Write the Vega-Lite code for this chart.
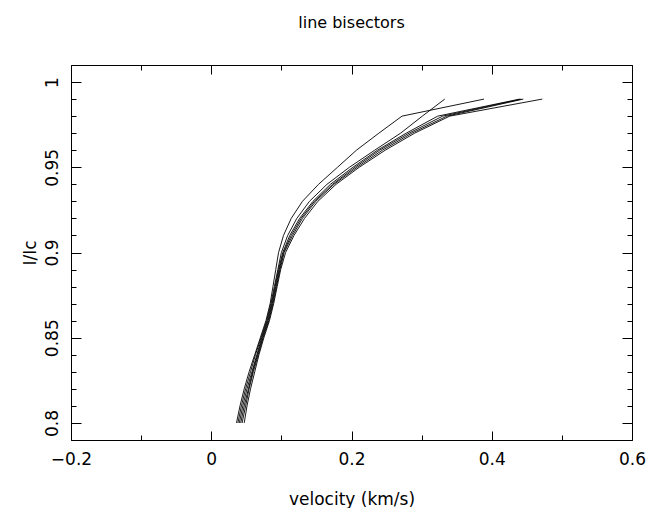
{
  "$schema": "https://vega.github.io/schema/vega-lite/v6.json",
  "width": 561,
  "height": 375,
  "autosize": {"type": "none"},
  "padding": {"left": 71, "top": 65, "right": 17, "bottom": 68},
  "background": "white",
  "config": {
    "view": {"stroke": "black", "strokeWidth": 1},
    "font": "DejaVu Sans",
    "axis": {"domain": false, "grid": false, "tickColor": "black", "tickWidth": 1, "labelColor": "black", "titleColor": "black", "titleFontWeight": "normal", "labelFontSize": 17, "titleFontSize": 17, "labelOverlap": false, "labelBound": false, "labelFlush": false}
  },
  "title": {"text": "line bisectors", "fontSize": 16, "fontWeight": "normal", "color": "black", "anchor": "middle", "frame": "group", "offset": 34},
  "data": {"values": [
    {"s":"a","I":0.80,"v":0.036},{"s":"a","I":0.81,"v":0.041},{"s":"a","I":0.82,"v":0.047},{"s":"a","I":0.83,"v":0.054},{"s":"a","I":0.84,"v":0.062},{"s":"a","I":0.85,"v":0.070},{"s":"a","I":0.86,"v":0.078},{"s":"a","I":0.87,"v":0.084},{"s":"a","I":0.88,"v":0.088},{"s":"a","I":0.89,"v":0.092},{"s":"a","I":0.90,"v":0.096},{"s":"a","I":0.91,"v":0.103},{"s":"a","I":0.92,"v":0.114},{"s":"a","I":0.93,"v":0.130},{"s":"a","I":0.94,"v":0.153},{"s":"a","I":0.95,"v":0.180},{"s":"a","I":0.96,"v":0.207},{"s":"a","I":0.97,"v":0.239},{"s":"a","I":0.98,"v":0.272},{"s":"a","I":0.99,"v":0.389},
    {"s":"b","I":0.80,"v":0.038},{"s":"b","I":0.81,"v":0.043},{"s":"b","I":0.82,"v":0.049},{"s":"b","I":0.83,"v":0.056},{"s":"b","I":0.84,"v":0.063},{"s":"b","I":0.85,"v":0.071},{"s":"b","I":0.86,"v":0.079},{"s":"b","I":0.87,"v":0.085},{"s":"b","I":0.88,"v":0.090},{"s":"b","I":0.89,"v":0.095},{"s":"b","I":0.90,"v":0.100},{"s":"b","I":0.91,"v":0.109},{"s":"b","I":0.92,"v":0.122},{"s":"b","I":0.93,"v":0.140},{"s":"b","I":0.94,"v":0.165},{"s":"b","I":0.95,"v":0.197},{"s":"b","I":0.96,"v":0.233},{"s":"b","I":0.97,"v":0.270},{"s":"b","I":0.98,"v":0.301},{"s":"b","I":0.99,"v":0.333},
    {"s":"c","I":0.80,"v":0.040},{"s":"c","I":0.81,"v":0.045},{"s":"c","I":0.82,"v":0.051},{"s":"c","I":0.83,"v":0.058},{"s":"c","I":0.84,"v":0.065},{"s":"c","I":0.85,"v":0.072},{"s":"c","I":0.86,"v":0.080},{"s":"c","I":0.87,"v":0.086},{"s":"c","I":0.88,"v":0.091},{"s":"c","I":0.89,"v":0.096},{"s":"c","I":0.90,"v":0.102},{"s":"c","I":0.91,"v":0.112},{"s":"c","I":0.92,"v":0.126},{"s":"c","I":0.93,"v":0.145},{"s":"c","I":0.94,"v":0.170},{"s":"c","I":0.95,"v":0.202},{"s":"c","I":0.96,"v":0.237},{"s":"c","I":0.97,"v":0.278},{"s":"c","I":0.98,"v":0.323},{"s":"c","I":0.99,"v":0.440},
    {"s":"d","I":0.80,"v":0.042},{"s":"d","I":0.81,"v":0.047},{"s":"d","I":0.82,"v":0.053},{"s":"d","I":0.83,"v":0.059},{"s":"d","I":0.84,"v":0.066},{"s":"d","I":0.85,"v":0.073},{"s":"d","I":0.86,"v":0.081},{"s":"d","I":0.87,"v":0.087},{"s":"d","I":0.88,"v":0.092},{"s":"d","I":0.89,"v":0.097},{"s":"d","I":0.90,"v":0.103},{"s":"d","I":0.91,"v":0.114},{"s":"d","I":0.92,"v":0.128},{"s":"d","I":0.93,"v":0.147},{"s":"d","I":0.94,"v":0.173},{"s":"d","I":0.95,"v":0.205},{"s":"d","I":0.96,"v":0.240},{"s":"d","I":0.97,"v":0.282},{"s":"d","I":0.98,"v":0.330},{"s":"d","I":0.99,"v":0.442},
    {"s":"e","I":0.80,"v":0.044},{"s":"e","I":0.81,"v":0.049},{"s":"e","I":0.82,"v":0.054},{"s":"e","I":0.83,"v":0.060},{"s":"e","I":0.84,"v":0.067},{"s":"e","I":0.85,"v":0.074},{"s":"e","I":0.86,"v":0.082},{"s":"e","I":0.87,"v":0.088},{"s":"e","I":0.88,"v":0.093},{"s":"e","I":0.89,"v":0.098},{"s":"e","I":0.90,"v":0.104},{"s":"e","I":0.91,"v":0.116},{"s":"e","I":0.92,"v":0.130},{"s":"e","I":0.93,"v":0.149},{"s":"e","I":0.94,"v":0.175},{"s":"e","I":0.95,"v":0.208},{"s":"e","I":0.96,"v":0.244},{"s":"e","I":0.97,"v":0.286},{"s":"e","I":0.98,"v":0.336},{"s":"e","I":0.99,"v":0.445},
    {"s":"f","I":0.80,"v":0.047},{"s":"f","I":0.81,"v":0.051},{"s":"f","I":0.82,"v":0.056},{"s":"f","I":0.83,"v":0.062},{"s":"f","I":0.84,"v":0.068},{"s":"f","I":0.85,"v":0.075},{"s":"f","I":0.86,"v":0.083},{"s":"f","I":0.87,"v":0.089},{"s":"f","I":0.88,"v":0.094},{"s":"f","I":0.89,"v":0.099},{"s":"f","I":0.90,"v":0.106},{"s":"f","I":0.91,"v":0.118},{"s":"f","I":0.92,"v":0.133},{"s":"f","I":0.93,"v":0.152},{"s":"f","I":0.94,"v":0.178},{"s":"f","I":0.95,"v":0.211},{"s":"f","I":0.96,"v":0.248},{"s":"f","I":0.97,"v":0.290},{"s":"f","I":0.98,"v":0.340},{"s":"f","I":0.99,"v":0.472}
  ]},
  "layer": [
    {
      "mark": {"type": "line", "color": "black", "strokeWidth": 0.9},
      "encoding": {
        "x": {"field": "v", "type": "quantitative", "scale": {"domain": [-0.2, 0.6], "nice": false, "zero": false},
          "axis": {"orient": "bottom", "values": [-0.2,-0.1,0,0.1,0.2,0.3,0.4,0.5,0.6], "format": "~g",
            "labelExpr": "abs(round(datum.value*10))%2==0 ? datum.label : ''",
            "tickSize": {"condition": {"test": "abs(round(datum.value*10))%2==0", "value": -9}, "value": -5},
            "labelPadding": 20, "title": "velocity (km/s)", "titlePadding": 20}},
        "y": {"field": "I", "type": "quantitative", "scale": {"domain": [0.79, 1.01], "nice": false, "zero": false},
          "axis": {"orient": "left", "values": [0.79,0.8,0.81,0.82,0.83,0.84,0.85,0.86,0.87,0.88,0.89,0.9,0.91,0.92,0.93,0.94,0.95,0.96,0.97,0.98,0.99,1,1.01], "format": "~g",
            "labelExpr": "round(datum.value*100)%5==0 ? datum.label : ''",
            "tickSize": {"condition": {"test": "round(datum.value*100)%5==0", "value": -10}, "value": -5},
            "labelAngle": -90, "labelAlign": "center", "labelBaseline": "bottom", "labelPadding": 20, "title": "I/Ic", "titlePadding": -1}},
        "detail": {"field": "s"},
        "order": {"field": "I"}
      }
    },
    {
      "mark": {"type": "line", "opacity": 0},
      "encoding": {
        "x": {"field": "v", "type": "quantitative",
          "axis": {"orient": "top", "values": [-0.2,-0.1,0,0.1,0.2,0.3,0.4,0.5,0.6], "labels": false, "title": null,
            "tickSize": {"condition": {"test": "abs(round(datum.value*10))%2==0", "value": -9}, "value": -5}}},
        "y": {"field": "I", "type": "quantitative",
          "axis": {"orient": "right", "values": [0.79,0.8,0.81,0.82,0.83,0.84,0.85,0.86,0.87,0.88,0.89,0.9,0.91,0.92,0.93,0.94,0.95,0.96,0.97,0.98,0.99,1,1.01], "labels": false, "title": null,
            "tickSize": {"condition": {"test": "round(datum.value*100)%5==0", "value": -10}, "value": -5}}},
        "detail": {"field": "s"},
        "order": {"field": "I"}
      }
    }
  ],
  "resolve": {"axis": {"x": "independent", "y": "independent"}}
}
